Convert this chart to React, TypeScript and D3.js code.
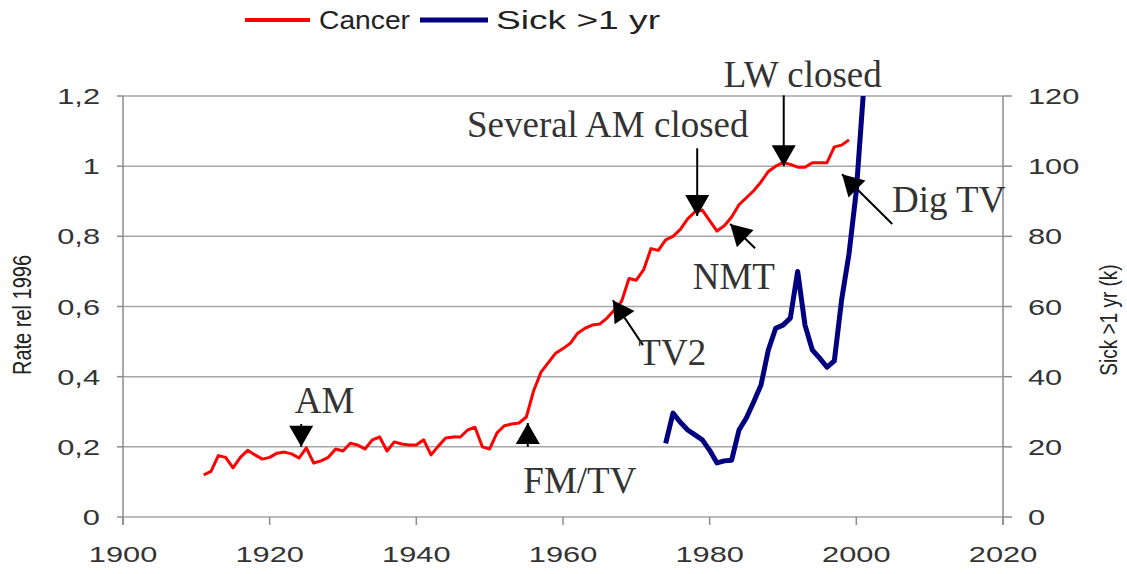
import * as d3 from 'd3'

const width = 1127
const height = 574

const plot = { left: 123, right: 1003, top: 96, bottom: 517 }

// cancer rate relative to 1996, one value per year from 1911
const cancerStart = 1911
const cancerValues = [
  0.12, 0.13, 0.175, 0.17, 0.14, 0.17, 0.19, 0.177, 0.165, 0.17,
  0.182, 0.185, 0.18, 0.168, 0.197, 0.154, 0.16, 0.17, 0.194, 0.188,
  0.21, 0.205, 0.194, 0.22, 0.228, 0.188, 0.214, 0.208, 0.205, 0.205,
  0.22, 0.177, 0.202, 0.225, 0.228, 0.228, 0.248, 0.256, 0.2, 0.194,
  0.24, 0.26, 0.265, 0.268, 0.285, 0.36, 0.413, 0.44, 0.467, 0.48,
  0.495, 0.524, 0.538, 0.547, 0.55, 0.567, 0.59, 0.615, 0.68, 0.675,
  0.705, 0.765, 0.76, 0.79, 0.8, 0.82, 0.85, 0.87, 0.875, 0.845,
  0.815, 0.83, 0.855, 0.89, 0.91, 0.93, 0.955, 0.985, 1.0, 1.01,
  1.005, 0.997, 0.997, 1.01, 1.01, 1.01, 1.055, 1.06, 1.075
]

// sick more than 1 year (thousands), from 1974
const sickStart = 1974
const sickValues = [
  21, 29.6, 27, 24.8, 23.4, 22, 19, 15.4, 16, 16.2,
  24.8, 28.2, 32.8, 37.6, 47.6, 53.8, 54.7, 56.7, 70, 54.7,
  47.6, 45.3, 42.7, 44.5, 62, 75, 93, 122
]

const xTicks = [1900, 1920, 1940, 1960, 1980, 2000, 2020]
const leftTicks = [0, 0.2, 0.4, 0.6, 0.8, 1, 1.2]
const rightTicks = [0, 20, 40, 60, 80, 100, 120]

// event annotations: arrow tail -> tip, label position (year, rate)
const annotations = [
  { label: 'AM', tail: [1924.3, 0.265], tip: [1924.3, 0.2], text: [1927.5, 0.296] },
  { label: 'FM/TV', tail: [1955.2, 0.2], tip: [1955.2, 0.268], text: [1962.3, 0.068] },
  { label: 'TV2', tail: [1970.9, 0.49], tip: [1966.8, 0.618], text: [1974.9, 0.433] },
  { label: 'Several AM closed', tail: [1978.3, 1.051], tip: [1978.3, 0.858], text: [1966.1, 1.083] },
  { label: 'LW closed', tail: [1990.1, 1.202], tip: [1990.1, 1.0], text: [1992.7, 1.225] },
  { label: 'NMT', tail: [1986.2, 0.766], tip: [1982.8, 0.835], text: [1983.3, 0.65] },
  { label: 'Dig TV', tail: [2004.9, 0.835], tip: [1998.05, 0.977], text: [2012.6, 0.869] }
]

const fmt = (d: number) => String(d).replace('.', ',')

function App() {
  const x = d3.scaleLinear().domain([1900, 2020]).range([plot.left, plot.right])
  const yL = d3.scaleLinear().domain([0, 1.2]).range([plot.bottom, plot.top])
  const yR = d3.scaleLinear().domain([0, 120]).range([plot.bottom, plot.top])

  const cancerLine = d3.line<number>()
    .x((_, i) => x(cancerStart + i))
    .y(d => yL(d))
  const sickLine = d3.line<number>()
    .x((_, i) => x(sickStart + i))
    .y(d => yR(d))

  const sans = 'Liberation Sans, Arial, sans-serif'
  const serif = 'Liberation Serif, Times New Roman, serif'

  const arrowHead = (tail: number[], tip: number[]) => {
    const x1 = x(tail[0]), y1 = yL(tail[1])
    const x2 = x(tip[0]), y2 = yL(tip[1])
    const a = Math.atan2(y2 - y1, x2 - x1)
    const len = 21, hw = 12
    const bx = x2 - len * Math.cos(a), by = y2 - len * Math.sin(a)
    const px = -Math.sin(a) * hw, py = Math.cos(a) * hw
    return `M${x2},${y2}L${bx + px},${by + py}L${bx - px},${by - py}Z`
  }

  return (
    <svg width={width} height={height} style={{ position: 'absolute', left: 0, top: 0, background: '#fff' }}>
      <defs>
        <clipPath id="plotClip">
          <rect x={plot.left} y={plot.top} width={plot.right - plot.left} height={plot.bottom - plot.top + 10} />
        </clipPath>
      </defs>

      {/* gridlines */}
      {leftTicks.map(t => (
        <line key={'g' + t} x1={plot.left} x2={plot.right} y1={yL(t)} y2={yL(t)} stroke="#a6a6a6" strokeWidth={1.5} />
      ))}

      {/* axes */}
      <line x1={plot.left} x2={plot.left} y1={plot.top} y2={plot.bottom + 8} stroke="#8c8c8c" strokeWidth={1.5} />
      <line x1={plot.right} x2={plot.right} y1={plot.top} y2={plot.bottom + 8} stroke="#8c8c8c" strokeWidth={1.5} />
      {xTicks.map(t => (
        <g key={'x' + t}>
          <line x1={x(t)} x2={x(t)} y1={plot.bottom} y2={plot.bottom + 8} stroke="#8c8c8c" strokeWidth={1.5} />
          <text transform={`translate(${x(t)},562) scale(1.4,1)`} textAnchor="middle" fontFamily={sans} fontSize={22} fill="#333">{t}</text>
        </g>
      ))}
      {leftTicks.map(t => (
        <g key={'l' + t}>
          <line x1={plot.left - 6} x2={plot.left} y1={yL(t)} y2={yL(t)} stroke="#8c8c8c" strokeWidth={1.5} />
          <text transform={`translate(100,${yL(t) + 8}) scale(1.4,1)`} textAnchor="end" fontFamily={sans} fontSize={22} fill="#333">{fmt(t)}</text>
        </g>
      ))}
      {rightTicks.map(t => (
        <g key={'r' + t}>
          <line x1={plot.right} x2={plot.right + 9} y1={yR(t)} y2={yR(t)} stroke="#8c8c8c" strokeWidth={1.5} />
          <text transform={`translate(1028,${yR(t) + 8}) scale(1.4,1)`} textAnchor="start" fontFamily={sans} fontSize={22} fill="#333">{t}</text>
        </g>
      ))}

      <text transform="translate(31,315) rotate(-90) scale(1,1.3)" textAnchor="middle" fontFamily={sans} fontSize={20} fill="#222">Rate rel 1996</text>
      <text transform="translate(1117,320) rotate(-90) scale(1,1.3)" textAnchor="middle" fontFamily={sans} fontSize={19} fill="#222">Sick &gt;1 yr (k)</text>

      {/* series */}
      <path d={cancerLine(cancerValues) || ''} fill="none" stroke="#ff0000" strokeWidth={3} strokeLinejoin="round" />
      <path d={sickLine(sickValues) || ''} fill="none" stroke="#000080" strokeWidth={5} strokeLinejoin="round" clipPath="url(#plotClip)" />

      {/* annotations */}
      {annotations.map(a => (
        <g key={a.label}>
          <line x1={x(a.tail[0])} y1={yL(a.tail[1])} x2={x(a.tip[0])} y2={yL(a.tip[1])} stroke="#000" strokeWidth={2} />
          <path d={arrowHead(a.tail, a.tip)} fill="#000" />
          <text x={x(a.text[0])} y={yL(a.text[1])} textAnchor="middle" fontFamily={serif} fontSize={37} fill="#333">{a.label}</text>
        </g>
      ))}

      {/* legend */}
      <line x1={245} x2={310} y1={20} y2={20} stroke="#ff0000" strokeWidth={4} />
      <text x={319} y={29} fontFamily={sans} fontSize={25} fill="#222" textLength={91} lengthAdjust="spacingAndGlyphs">Cancer</text>
      <line x1={420} x2={488} y1={20} y2={20} stroke="#000080" strokeWidth={5} />
      <text x={496} y={29} fontFamily={sans} fontSize={25} fill="#222" textLength={164} lengthAdjust="spacingAndGlyphs">Sick &gt;1 yr</text>
    </svg>
  )
}

export default App
